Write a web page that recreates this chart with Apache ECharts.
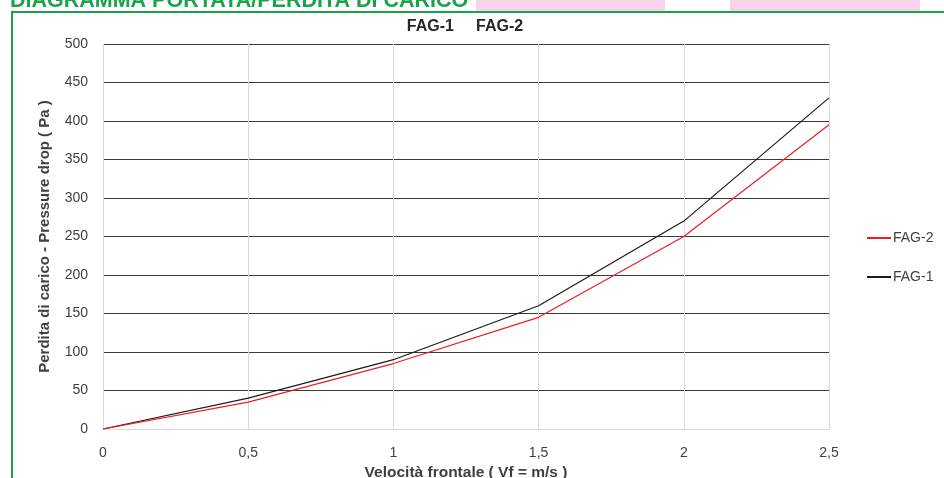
<!DOCTYPE html>
<html>
<head>
<meta charset="utf-8">
<script src="https://cdn.jsdelivr.net/npm/echarts@6.0.0/dist/echarts.min.js"></script>
<style>
html,body{margin:0;padding:0;background:#fff;}
#chart{width:944px;height:478px;}
</style>
</head>
<body>
<div id="chart"></div>
<script>
const velocities = [0, 0.5, 1, 1.5, 2, 2.5];
const fag1 = [0, 40, 90, 160, 270, 430];
const fag2 = [0, 35, 85, 145, 250, 395];
const seriesNames = ['FAG-2', 'FAG-1'];
const headerTitle = 'DIAGRAMMA PORTATA/PERDITA DI CARICO';
const chartTitle = 'FAG-1     FAG-2';
const xAxisName = 'Velocità frontale ( Vf = m/s )';
const yAxisName = 'Perdita di carico - Pressure drop ( Pa )';

const font = "'Liberation Sans', sans-serif";
const chart = echarts.init(document.getElementById('chart'));
const pairs = (xs, ys) => xs.map((x, i) => [x, ys[i]]);

chart.setOption({
  animation: false,
  textStyle: {fontFamily: font},
  graphic: [
    {type: 'rect', shape: {x: 476, y: 0, width: 189, height: 11}, style: {fill: '#f9d3ea'}, z: 0},
    {type: 'rect', shape: {x: 730, y: 0, width: 190, height: 11}, style: {fill: '#f9d3ea'}, z: 0},
    {type: 'text', x: 10, y: 12, style: {text: headerTitle, fill: '#1ba34b', font: "bold 21.5px 'Liberation Sans', sans-serif", textVerticalAlign: 'bottom'}, z: 1},
    {type: 'rect', shape: {x: 12, y: 12, width: 1000, height: 1000}, style: {fill: 'none', stroke: '#1ba34b', lineWidth: 2}, z: 2},
    {type: 'text', x: 465, y: 27, style: {text: chartTitle, fill: '#262626', font: "bold 16px 'Liberation Sans', sans-serif", textAlign: 'center', textVerticalAlign: 'middle'}, z: 3}
  ],
  grid: {left: 103, right: 115, top: 44, bottom: 49, outerBoundsMode: 'none', containLabel: false},
  legend: {
    orient: 'vertical',
    left: 862,
    top: 226,
    itemGap: 25,
    itemWidth: 24,
    itemHeight: 2,
    icon: 'rect',
    data: seriesNames,
    textStyle: {fontSize: 14, color: '#404040', fontFamily: font, padding: [0, 0, 0, -3]}
  },
  xAxis: {
    type: 'value',
    min: 0, max: 2.5, interval: 0.5,
    name: xAxisName,
    nameLocation: 'middle',
    nameGap: 34,
    nameTextStyle: {fontWeight: 'bold', fontSize: 15.5, color: '#404040', fontFamily: font},
    axisLine: {show: true, lineStyle: {color: '#d9d9d9', width: 1}},
    axisTick: {show: false},
    axisLabel: {fontSize: 14, color: '#404040', margin: 17, formatter: v => String(v).replace('.', ',')},
    splitLine: {show: true, lineStyle: {color: '#d9d9d9', width: 1}}
  },
  yAxis: {
    type: 'value',
    min: 0, max: 500, interval: 50,
    name: yAxisName,
    nameLocation: 'middle',
    nameGap: 51,
    nameTextStyle: {fontWeight: 'bold', fontSize: 15, color: '#404040', fontFamily: font},
    axisLine: {show: false},
    axisTick: {show: false},
    axisLabel: {fontSize: 14, color: '#404040', margin: 15},
    splitLine: {show: true, lineStyle: {color: '#3a3a3a', width: 1.2}}
  },
  series: [
    {name: 'FAG-2', type: 'line', data: pairs(velocities, fag2), symbol: 'none', lineStyle: {color: '#ee1c25', width: 1.2}, itemStyle: {color: '#ee1c25'}, z: 4},
    {name: 'FAG-1', type: 'line', data: pairs(velocities, fag1), symbol: 'none', lineStyle: {color: '#1a1a1a', width: 1.2}, itemStyle: {color: '#1a1a1a'}, z: 3}
  ]
});
</script>
</body>
</html>
